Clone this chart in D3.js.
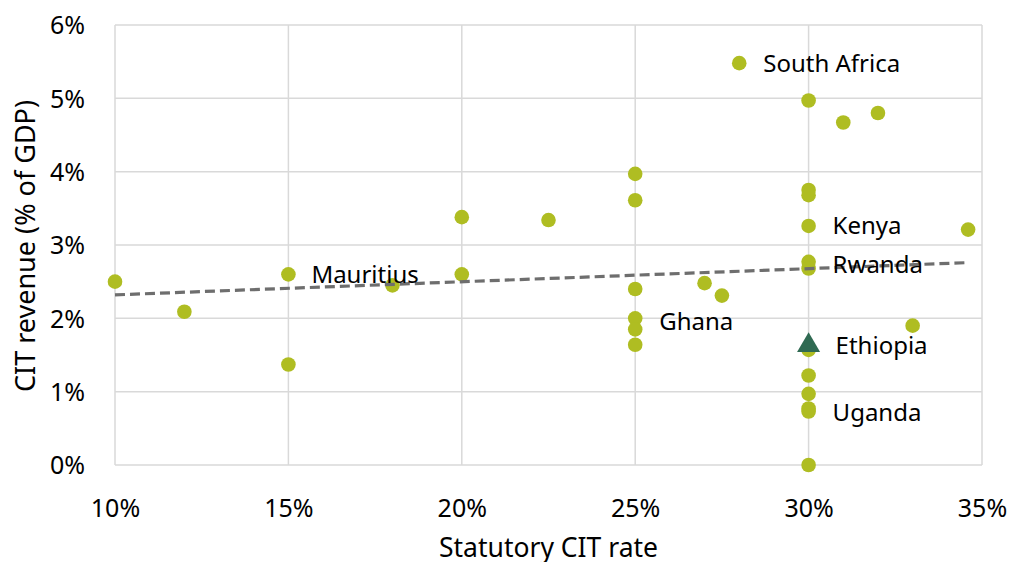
<!DOCTYPE html>
<html>
<head>
<meta charset="utf-8">
<script src="https://cdn.jsdelivr.net/npm/d3@7"></script>
<style>
  body { margin: 0; background: #fff; }
  text { font-family: "Noto Sans", "Open Sans", sans-serif; fill: #000; }
</style>
</head>
<body>
<div id="chart"></div>
<script>
// statutory CIT rate (%) and CIT revenue (% of GDP), one entry per country
var rates = [10, 12, 15, 15, 18, 20, 20, 22.5, 25, 25, 25, 25, 25, 25, 27, 27.5, 28,
             30, 31, 32, 30, 30, 30, 34.6, 30, 30, 33, 30, 30, 30, 30, 30, 30];
var revenue = [2.50, 2.09, 2.60, 1.37, 2.45, 3.38, 2.60, 3.34, 3.97, 3.61, 2.40, 2.00, 1.85, 1.64, 2.48, 2.31, 5.48,
               4.97, 4.67, 4.80, 3.75, 3.68, 3.26, 3.21, 2.77, 2.68, 1.90, 1.57, 1.22, 0.97, 0.77, 0.73, 0.00];

// highlighted country (triangle)
var ethiopia = { rate: 30, rev: 1.63 };

// labelled countries: name, rate, revenue of the point they belong to
var labelNames = ["South Africa", "Kenya", "Rwanda", "Ethiopia", "Uganda", "Ghana", "Mauritius"];
var labelRates = [28, 30, 30, 30, 30, 25, 15];
var labelRevs  = [5.48, 3.26, 2.73, 1.63, 0.72, 1.95, 2.60];

// linear trend line ends
var trendRates = [10, 34.6];
var trendRevs = [2.32, 2.76];

var xTicks = [10, 15, 20, 25, 30, 35];
var yTicks = [0, 1, 2, 3, 4, 5, 6];

var width = 1010, height = 562;
var mLeft = 115, mRight = 982, mTop = 25, mBottom = 465;

var svg = d3.select("#chart").append("svg")
  .attr("width", width)
  .attr("height", height);

var x = d3.scaleLinear().domain([10, 35]).range([mLeft, mRight]);
var y = d3.scaleLinear().domain([0, 6]).range([mBottom, mTop]);

// gridlines
svg.append("g").selectAll("line")
  .data(xTicks).enter().append("line")
  .attr("x1", d => x(d)).attr("x2", d => x(d))
  .attr("y1", mTop).attr("y2", mBottom)
  .attr("stroke", "#d9d9d9").attr("stroke-width", 1.5);

svg.append("g").selectAll("line")
  .data(yTicks).enter().append("line")
  .attr("x1", mLeft).attr("x2", mRight)
  .attr("y1", d => y(d)).attr("y2", d => y(d))
  .attr("stroke", "#d9d9d9").attr("stroke-width", 1.5);

// axes (labels only)
var xAxis = d3.axisBottom(x).tickValues(xTicks).tickSize(0).tickPadding(0)
  .tickFormat(d => d + "%");
var gx = svg.append("g")
  .attr("transform", "translate(0," + mBottom + ")")
  .call(xAxis);
gx.select(".domain").remove();
gx.selectAll("text")
  .attr("y", 43).attr("dy", "0.35em")
  .attr("font-size", "25px")
  .attr("font-family", "Noto Sans")
  .attr("fill", "#000");

var yAxis = d3.axisLeft(y).tickValues(yTicks).tickSize(0).tickPadding(0)
  .tickFormat(d => d + "%");
var gy = svg.append("g")
  .attr("transform", "translate(" + mLeft + ",0)")
  .call(yAxis);
gy.select(".domain").remove();
gy.selectAll("text")
  .attr("x", -30).attr("dy", "0.35em")
  .attr("font-size", "25px")
  .attr("font-family", "Noto Sans")
  .attr("fill", "#000");

// axis titles
svg.append("text")
  .attr("x", (mLeft + mRight) / 2)
  .attr("y", 557)
  .attr("text-anchor", "middle")
  .attr("font-size", "26.5px")
  .text("Statutory CIT rate");

svg.append("text")
  .attr("transform", "translate(35," + 246 + ") rotate(-90)")
  .attr("text-anchor", "middle")
  .attr("font-size", "27px")
  .text("CIT revenue (% of GDP)");

// points
var pts = rates.map((r, i) => ({ rate: r, rev: revenue[i] }));
svg.append("g").selectAll("circle")
  .data(pts).enter().append("circle")
  .attr("cx", d => x(d.rate))
  .attr("cy", d => y(d.rev))
  .attr("r", 7.3)
  .attr("fill", "#afbd22");

// trend line
svg.append("line")
  .attr("x1", x(trendRates[0])).attr("y1", y(trendRevs[0]))
  .attr("x2", x(trendRates[1])).attr("y2", y(trendRevs[1]))
  .attr("stroke", "#6e6e6e")
  .attr("stroke-width", 3.2)
  .attr("stroke-dasharray", "10,5");

// Ethiopia triangle
svg.append("path")
  .attr("d", d3.symbol().type(d3.symbolTriangle).size(230)())
  .attr("transform", "translate(" + x(ethiopia.rate) + "," + y(ethiopia.rev) + ")")
  .attr("fill", "#2f6a52");

// country labels
var labelDx = [24, 24, 24, 27, 24, 24, 23];
svg.append("g").selectAll("text")
  .data(labelNames).enter().append("text")
  .attr("x", (d, i) => x(labelRates[i]) + labelDx[i])
  .attr("y", (d, i) => y(labelRevs[i]))
  .attr("dy", "0.35em")
  .attr("font-size", "24px")
  .text(d => d);
</script>
</body>
</html>
